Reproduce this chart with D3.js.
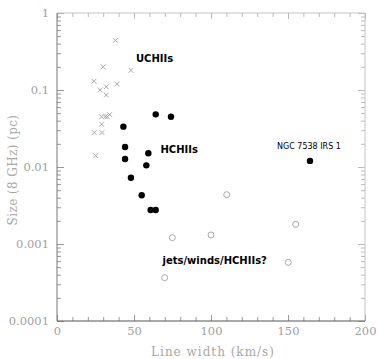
<!DOCTYPE html>
<html>
<head>
<meta charset="utf-8">
<script src="https://cdn.jsdelivr.net/npm/d3@7"></script>
<style>
  body { margin: 0; background: #fff; }
  svg { display: block; }
</style>
</head>
<body>
<div id="chart"></div>
<script>
// UCHII regions (crosses)
var ucWidth = [38, 30, 48, 24, 39, 28, 32, 32, 29, 31.4, 32.7, 34.2, 29, 24.2, 29.2, 25.1];
var ucSize  = [0.44, 0.2, 0.18, 0.13, 0.12, 0.1, 0.11, 0.086, 0.045, 0.045, 0.045, 0.048, 0.036, 0.028, 0.028, 0.014];

// HCHII regions (filled dots)
var hcWidth = [43.1, 64.1, 74, 44.2, 44.2, 59.3, 58, 48, 55, 60.8, 64.1, 164.3];
var hcSize  = [0.0334, 0.0483, 0.045, 0.0182, 0.0127, 0.0151, 0.0105, 0.00726, 0.00429, 0.00277, 0.00277, 0.012];

// jets / winds (open circles)
var jetWidth = [74.9, 69.9, 110.2, 100, 155, 150.2];
var jetSize  = [0.00121, 0.000365, 0.00437, 0.00131, 0.0018, 0.000578];

var xTicks = [0, 50, 100, 150, 200];
var yTicks = [1, 0.1, 0.01, 0.001, 0.0001];
var yTickLabels = ["1", "0.1", "0.01", "0.001", "0.0001"];

var width = 378, height = 359,
    plotLeft = 57, plotRight = 365, plotTop = 13, plotBottom = 321;

var svg = d3.select("#chart").append("svg")
    .attr("width", width)
    .attr("height", height);

var x = d3.scaleLinear().domain([0, 200]).range([plotLeft, plotRight]);
var y = d3.scaleLog().domain([0.0001, 1]).range([plotBottom, plotTop]);

var minorX = d3.range(0, 201, 10).filter(function(v){ return v % 50 != 0; });
var minorY = [];
[0.0001, 0.001, 0.01, 0.1].forEach(function(d){
  for (var k = 2; k <= 9; k++) minorY.push(d * k);
});

function addAxis(axis, tx, ty, color){
  var g = svg.append("g")
     .attr("transform", "translate(" + tx + "," + ty + ")")
     .call(axis);
  g.select(".domain").remove();
  g.selectAll(".tick line").attr("stroke", color).attr("stroke-width", 1);
  g.selectAll(".tick text")
     .attr("fill", "#a0a0a0")
     .attr("font-family", "DejaVu Serif")
     .attr("font-size", 11.5);
  return g;
}

// ticks, inward on all four sides
addAxis(d3.axisTop(x).tickValues(minorX).tickSize(4).tickFormat(""), 0, plotBottom, "#999");
addAxis(d3.axisTop(x).tickValues(xTicks).tickSize(6).tickFormat(""), 0, plotBottom, "#999");
addAxis(d3.axisBottom(x).tickValues(minorX).tickSize(4).tickFormat(""), 0, plotTop, "#bbb");
addAxis(d3.axisBottom(x).tickValues(xTicks).tickSize(6).tickFormat(""), 0, plotTop, "#bbb");
addAxis(d3.axisRight(y).tickValues(minorY).tickSize(4).tickFormat(""), plotLeft, 0, "#999");
addAxis(d3.axisRight(y).tickValues(yTicks).tickSize(7).tickFormat(""), plotLeft, 0, "#999");
addAxis(d3.axisLeft(y).tickValues(minorY).tickSize(4).tickFormat(""), plotRight, 0, "#bbb");
addAxis(d3.axisLeft(y).tickValues(yTicks).tickSize(7).tickFormat(""), plotRight, 0, "#bbb");

// tick labels
addAxis(d3.axisBottom(x).tickValues(xTicks).tickSize(0).tickPadding(6), 0, plotBottom, "none");
addAxis(d3.axisLeft(y).tickValues(yTicks).tickSize(0).tickPadding(8)
          .tickFormat(function(d, i){ return yTickLabels[i]; }), plotLeft, 0, "none");

// frame
svg.append("line").attr("x1", plotLeft).attr("x2", plotRight).attr("y1", plotTop).attr("y2", plotTop)
   .attr("stroke", "#c4c4c4");
svg.append("line").attr("x1", plotRight).attr("x2", plotRight).attr("y1", plotTop).attr("y2", plotBottom)
   .attr("stroke", "#c4c4c4");
svg.append("line").attr("x1", plotLeft).attr("x2", plotLeft).attr("y1", plotTop).attr("y2", plotBottom)
   .attr("stroke", "#777");
svg.append("line").attr("x1", plotLeft).attr("x2", plotRight).attr("y1", plotBottom).attr("y2", plotBottom)
   .attr("stroke", "#555");

// axis titles
svg.append("text")
   .attr("x", 213)
   .attr("y", 356)
   .attr("text-anchor", "middle")
   .attr("font-family", "DejaVu Serif")
   .attr("font-size", 12)
   .attr("letter-spacing", 1)
   .attr("fill", "#a8a8a8")
   .text("Line width (km/s)");
svg.append("text")
   .attr("transform", "translate(17,170) rotate(-90)")
   .attr("text-anchor", "middle")
   .attr("font-family", "DejaVu Serif")
   .attr("font-size", 12)
   .attr("letter-spacing", 0.4)
   .attr("fill", "#a8a8a8")
   .text("Size (8 GHz) (pc)");

// crosses
var s = 2.4;
svg.append("g").selectAll("path")
   .data(d3.zip(ucWidth, ucSize))
   .join("path")
   .attr("d", function(d){
     var px = x(d[0]), py = y(d[1]);
     return "M" + (px - s) + "," + (py - s) + "L" + (px + s) + "," + (py + s) +
            "M" + (px - s) + "," + (py + s) + "L" + (px + s) + "," + (py - s);
   })
   .attr("stroke", "#a0a0a0")
   .attr("stroke-width", 0.9)
   .attr("fill", "none");

// filled dots
svg.append("g").selectAll("circle")
   .data(d3.zip(hcWidth, hcSize))
   .join("circle")
   .attr("cx", function(d){ return x(d[0]); })
   .attr("cy", function(d){ return y(d[1]); })
   .attr("r", 3.2)
   .attr("fill", "#000");

// open circles
svg.append("g").selectAll("circle")
   .data(d3.zip(jetWidth, jetSize))
   .join("circle")
   .attr("cx", function(d){ return x(d[0]); })
   .attr("cy", function(d){ return y(d[1]); })
   .attr("r", 3)
   .attr("fill", "none")
   .attr("stroke", "#a8a8a8")
   .attr("stroke-width", 1);

// annotations
function addLabel(txt, px, py, size, weight){
  svg.append("text")
     .attr("x", px)
     .attr("y", py)
     .attr("font-family", "DejaVu Sans")
     .attr("font-size", size)
     .attr("font-weight", weight)
     .attr("fill", "#000")
     .text(txt);
}
addLabel("UCHIIs", 136, 61.5, 10, "bold");
addLabel("HCHIIs", 160.5, 152.5, 10, "bold");
addLabel("NGC 7538 IRS 1", 277, 148.5, 8, "normal");
addLabel("jets/winds/HCHIIs?", 162.5, 263.5, 10, "bold");
</script>
</body>
</html>
